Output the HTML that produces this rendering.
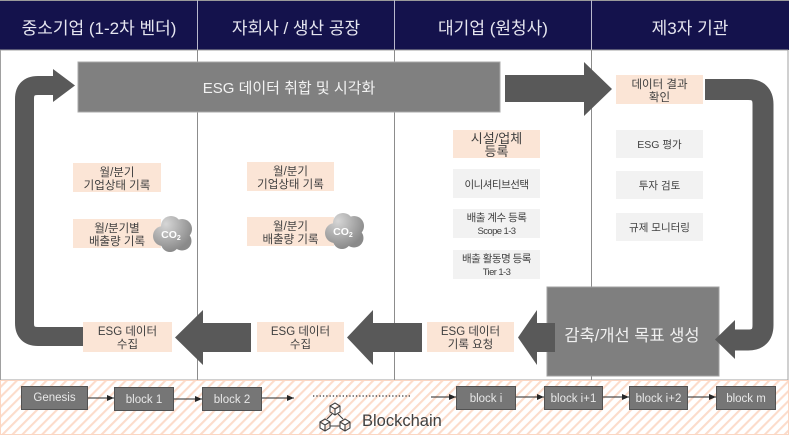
<!DOCTYPE html>
<html><head><meta charset="utf-8">
<style>
html,body{margin:0;padding:0;background:#fff;}
body{width:789px;height:436px;overflow:hidden;}
svg{display:block;}
</style></head><body>
<svg width="789" height="436" viewBox="0 0 789 436" xmlns="http://www.w3.org/2000/svg" font-family="'Liberation Sans','Noto Sans CJK KR',sans-serif">
<defs>
<pattern id="hatch" width="7" height="7" patternUnits="userSpaceOnUse" patternTransform="rotate(45)">
<rect width="7" height="7" fill="#fff"/>
<line x1="1" y1="0" x2="1" y2="7" stroke="#fcdccb" stroke-width="2.2"/>
</pattern>
<radialGradient id="cg1" gradientUnits="userSpaceOnUse" cx="166" cy="224" r="28"><stop offset="0" stop-color="#d6d6d6"/><stop offset="1" stop-color="#8a8a8a"/></radialGradient>
<radialGradient id="cg2" gradientUnits="userSpaceOnUse" cx="338" cy="221" r="28"><stop offset="0" stop-color="#d6d6d6"/><stop offset="1" stop-color="#8a8a8a"/></radialGradient>
<marker id="ah" markerWidth="8" markerHeight="8" refX="7" refY="4" orient="auto" markerUnits="userSpaceOnUse"><path d="M0,1 L7,4 L0,7 Z" fill="#262626"/></marker>
</defs>

<!-- header -->
<rect x="0" y="0" width="789" height="50" fill="#14124c"/>
<line x1="0" y1="0.5" x2="789" y2="0.5" stroke="#9a9a9a"/>
<g stroke="#b8b8cc" stroke-width="1">
<line x1="197.5" y1="0" x2="197.5" y2="50"/>
<line x1="394.5" y1="0" x2="394.5" y2="50"/>
<line x1="591.5" y1="0" x2="591.5" y2="50"/>
</g>
<g fill="#e6e6f0" font-size="17" text-anchor="middle">
<text x="99" y="34">중소기업 (1-2차 벤더)</text>
<text x="296" y="34">자회사 / 생산 공장</text>
<text x="493" y="34">대기업 (원청사)</text>
<text x="690" y="34">제3자 기관</text>
</g>

<!-- body frame -->
<rect x="0.5" y="50" width="787.5" height="330" fill="#fff" stroke="#a0a0a0"/>
<g stroke="#8c8c8c" stroke-width="1">
<line x1="197.5" y1="50" x2="197.5" y2="380"/>
<line x1="394.5" y1="50" x2="394.5" y2="380"/>
<line x1="591.5" y1="50" x2="591.5" y2="380"/>
</g>

<!-- blockchain strip -->
<rect x="0.5" y="380.5" width="788" height="54" fill="url(#hatch)" stroke="#fbd6c2"/>

<!-- top bar -->
<rect x="78" y="62" width="422" height="50" fill="#808080" stroke="#a8a8a8"/>
<text x="289" y="93" fill="#f2f2f2" font-size="15" text-anchor="middle">ESG 데이터 취합 및 시각화</text>

<!-- right arrow from bar -->
<polygon points="505,75 584,75 584,62 612,89 584,116 584,102 505,102" fill="#595959"/>

<!-- 데이터 결과 확인 -->
<rect x="616" y="75" width="87" height="29" fill="#fbe5d6"/>
<g fill="#404040" font-size="11.5" text-anchor="middle">
<text x="659.5" y="88">데이터 결과</text>
<text x="659.5" y="101">확인</text>
</g>

<!-- right U arrow -->
<path d="M705,89.5 H748 Q763,89.5 763,104.5 V325 Q763,340 748,340 H733" fill="none" stroke="#595959" stroke-width="21"/>

<!-- 감축 box -->
<rect x="547" y="287" width="172" height="89" fill="#7f7f7f" stroke="#a0a0a0"/>
<text x="632" y="341" fill="#f0f0f0" font-size="16.5" text-anchor="middle">감축/개선 목표 생성</text>
<polygon points="735,320 735,359 715,339.5" fill="#595959"/>
<rect x="733" y="329.5" width="4" height="21" fill="#595959"/>

<!-- left arrows -->
<polygon points="518,337.5 537,310 537,323 555,323 555,352 537,352 537,365" fill="#595959"/>
<polygon points="347,337.5 373,310 373,323 422,323 422,352 373,352 373,365" fill="#595959"/>
<polygon points="175,337.5 203,310 203,323 251,323 251,352 203,352 203,365" fill="#595959"/>

<!-- left L arrow -->
<path d="M84,336.5 H38 Q24.5,336.5 24.5,323 V99 Q24.5,85.5 38,85.5 H55" fill="none" stroke="#595959" stroke-width="19"/>
<polygon points="53,69 75,85.5 53,102" fill="#595959"/>

<!-- peach boxes -->
<g fill="#fbe5d6">
<rect x="427" y="322" width="87" height="30"/>
<rect x="257" y="322" width="87" height="30"/>
<rect x="83" y="322" width="89" height="30"/>
<rect x="73" y="163" width="88" height="29"/>
<rect x="73" y="219" width="88" height="29"/>
<rect x="247" y="162" width="87" height="29"/>
<rect x="247" y="217" width="87" height="29"/>
<rect x="453" y="130" width="87" height="28"/>
</g>
<g fill="#f2f2f2">
<rect x="453" y="169" width="87" height="29"/>
<rect x="453" y="209" width="87" height="29"/>
<rect x="453" y="250" width="87" height="29"/>
<rect x="616" y="130" width="87" height="28"/>
<rect x="616" y="171" width="87" height="28"/>
<rect x="616" y="213" width="87" height="28"/>
</g>

<g fill="#404040" font-size="11.5" text-anchor="middle">
<text x="470.5" y="335">ESG 데이터</text>
<text x="470.5" y="348">기록 요청</text>
<text x="300.5" y="335">ESG 데이터</text>
<text x="300.5" y="348">수집</text>
<text x="127.5" y="335">ESG 데이터</text>
<text x="127.5" y="348">수집</text>
<text x="117" y="176">월/분기</text>
<text x="117" y="189">기업상태 기록</text>
<text x="117" y="232">월/분기별</text>
<text x="117" y="245">배출량 기록</text>
<text x="290.5" y="175">월/분기</text>
<text x="290.5" y="188">기업상태 기록</text>
<text x="290.5" y="230">월/분기</text>
<text x="290.5" y="243">배출량 기록</text>
</g>
<g fill="#404040" font-size="13" text-anchor="middle">
<text x="496.5" y="143">시설/업체</text>
<text x="496.5" y="156">등록</text>
</g>
<g fill="#404040" font-size="10.5" text-anchor="middle">
<text x="496.5" y="188" letter-spacing="-0.5">이니셔티브선택</text>
<text x="496.5" y="221" letter-spacing="-0.5">배출 계수 등록</text>
<text x="496.5" y="234" font-size="9.5" letter-spacing="-0.6">Scope 1-3</text>
<text x="496.5" y="262" letter-spacing="-0.5">배출 활동명 등록</text>
<text x="496.5" y="275" font-size="9.5" letter-spacing="-0.6">Tier 1-3</text>
<text x="659.5" y="148">ESG 평가</text>
<text x="659.5" y="189">투자 검토</text>
<text x="659.5" y="231">규제 모니터링</text>
</g>

<!-- CO2 clouds -->
<g>
<g fill="url(#cg1)">
<circle cx="163" cy="236" r="10"/>
<circle cx="171" cy="226" r="10"/>
<circle cx="182" cy="229" r="10"/>
<circle cx="182" cy="241" r="9.5"/>
<circle cx="170" cy="243" r="9"/>
<circle cx="173" cy="234" r="11"/>
</g>
<text x="171" y="238" fill="#fff" font-size="10.5" font-weight="bold" text-anchor="middle">CO<tspan font-size="7" dy="2">2</tspan></text>
</g>
<g>
<g fill="url(#cg2)">
<circle cx="335" cy="233" r="10"/>
<circle cx="343" cy="223" r="10"/>
<circle cx="354" cy="226" r="10"/>
<circle cx="354" cy="238" r="9.5"/>
<circle cx="342" cy="240" r="9"/>
<circle cx="345" cy="231" r="11"/>
</g>
<text x="343" y="235" fill="#fff" font-size="10.5" font-weight="bold" text-anchor="middle">CO<tspan font-size="7" dy="2">2</tspan></text>
</g>

<!-- blocks -->
<g fill="#767676" stroke="#525252" stroke-width="1">
<rect x="21.5" y="386.5" width="66" height="23"/>
<rect x="114.5" y="387.5" width="59" height="23"/>
<rect x="202.5" y="387.5" width="59" height="23"/>
<rect x="456.5" y="386.5" width="59" height="23"/>
<rect x="544.5" y="386.5" width="58" height="23"/>
<rect x="629.5" y="386.5" width="58" height="23"/>
<rect x="716.5" y="386.5" width="59" height="23"/>
</g>
<g fill="#e8e8e8" font-size="11.5" text-anchor="middle">
<text x="54.5" y="401">Genesis</text>
<text x="144" y="403">block 1</text>
<text x="232" y="403">block 2</text>
<text x="486" y="402">block i</text>
<text x="573.5" y="402">block i+1</text>
<text x="658.5" y="402">block i+2</text>
<text x="746" y="402">block m</text>
</g>
<g stroke="#262626" stroke-width="1" marker-end="url(#ah)">
<line x1="88" y1="398" x2="114" y2="398"/>
<line x1="174" y1="399" x2="202" y2="399"/>
<line x1="262" y1="398" x2="294" y2="398"/>
<line x1="431" y1="397" x2="456" y2="397"/>
<line x1="516" y1="397" x2="544" y2="397"/>
<line x1="603" y1="397" x2="629" y2="397"/>
<line x1="688" y1="397" x2="716" y2="397"/>
</g>
<line x1="313" y1="396" x2="412" y2="396" stroke="#333" stroke-width="1.3" stroke-dasharray="1.3 2"/>

<!-- blockchain icon -->
<g fill="none" stroke="#404040" stroke-width="1.1">
<path d="M330,406 L335,403 L340,406 L340,412 L335,415 L330,412 Z M330,406 L335,409 L340,406 M335,409 L335,415"/>
<path d="M320,422 L325,419 L330,422 L330,428 L325,431 L320,428 Z M320,422 L325,425 L330,422 M325,425 L325,431"/>
<path d="M340,422 L345,419 L350,422 L350,428 L345,431 L340,428 Z M340,422 L345,425 L350,422 M345,425 L345,431"/>
<path d="M332,414 L327,419 M338,414 L343,419 M330,426 L340,426"/>
</g>
<text x="362" y="426" fill="#404040" font-size="16.5">Blockchain</text>
</svg>
</body></html>
